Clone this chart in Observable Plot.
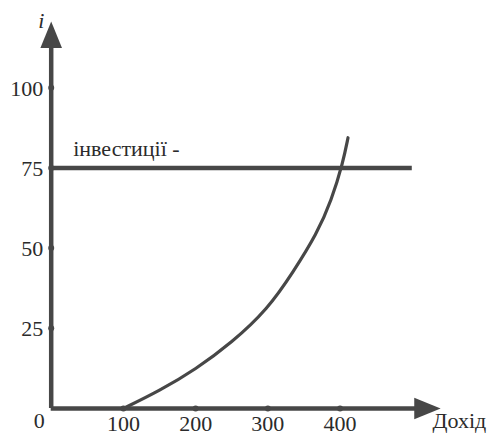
<!DOCTYPE html>
<html>
<head>
<meta charset="utf-8">
<script src="https://cdn.jsdelivr.net/npm/d3@7"></script>
<script src="https://cdn.jsdelivr.net/npm/@observablehq/plot@0.6"></script>
<style>
  html, body { margin: 0; padding: 0; background: #fff; }
  #chart svg { display: block; }
  #chart svg text { font-family: "Liberation Serif", "Times New Roman", Tinos, "DejaVu Serif", "Noto Serif", Times, serif !important; }
</style>
</head>
<body>
<div id="chart"></div>
<script>
// Data
const xTicks = [100, 200, 300, 400];
const yTicks = [25, 50, 75, 100];
const investLevel = 75;
const investEndX = 500;
const investLabel = "інвестиції -";
const xAxisLabel = "Дохід";
const yAxisLabel = "i";
const originLabel = "0";
const curveX = [100, 150, 200, 250, 300, 335, 368, 388, 404, 411];
const curveY = [0, 5.5, 12.2, 20.5, 31, 42.5, 54.5, 64.8, 76.6, 84.4];
const xAxisEnd = 522;   // end of x-axis shaft (data units)
const xArrowAt = 521;   // arrowhead centre
const yAxisEnd = 116;   // end of y-axis shaft
const yArrowAt = 116.5; // arrowhead centre

const curve = curveX.map((x, i) => ({x, y: curveY[i]}));

const ink = "#474747";
const textInk = "#2b2b2b";
const serif = "Liberation Serif, Times New Roman, DejaVu Serif, serif";

// elongated triangle, pointing up, centred on the point
const arrowHead = {
  draw(context, size) {
    const r = Math.sqrt(size / Math.PI);
    const h = 2.2 * r, w = 1.8 * r;
    context.moveTo(0, -h / 2);
    context.lineTo(w / 2, h / 2);
    context.lineTo(-w / 2, h / 2);
    context.closePath();
  }
};

const fs = 22;
const t = {fontSize: fs, fill: textInk, fontFamily: serif};

const chart = Plot.plot({
  width: 496,
  height: 435,
  marginLeft: 50.7,
  marginRight: 12,
  marginTop: 23,
  marginBottom: 27,
  x: {domain: [0, 600], axis: null},
  y: {domain: [0, 120], axis: null},
  style: {fontFamily: serif, color: textInk, background: "#fff"},
  marks: [
    // investment line
    Plot.ruleY([investLevel], {x1: 0, x2: investEndX, stroke: ink, strokeWidth: 4.5}),
    Plot.text([investLabel], {x: () => 0, y: () => investLevel, text: d => d, dx: 22, dy: -19, textAnchor: "start", ...t}),
    // curve
    Plot.line(curve, {x: "x", y: "y", curve: "basis", stroke: ink, strokeWidth: 3.2}),
    // axes
    Plot.ruleY([0], {x1: 0, x2: xAxisEnd, stroke: ink, strokeWidth: 4.5}),
    Plot.ruleX([0], {y1: 0, y2: yAxisEnd, stroke: ink, strokeWidth: 4.5}),
    Plot.dot([0], {x: () => xArrowAt, y: () => 0, symbol: arrowHead, r: 12, rotate: 90, fill: ink, stroke: null}),
    Plot.dot([0], {x: () => 0, y: () => yArrowAt, symbol: arrowHead, r: 12, fill: ink, stroke: null}),
    // tick dots
    Plot.dot(xTicks, {x: d => d, y: () => 0, r: 3, fill: ink, stroke: null}),
    Plot.dot(yTicks, {x: () => 0, y: d => d, r: 3, fill: ink, stroke: null}),
    // tick labels
    Plot.text(xTicks, {x: d => d, y: () => 0, text: d => String(d), dy: 15, ...t}),
    Plot.text(yTicks, {x: () => 0, y: d => d, text: d => String(d), dx: -8, dy: 1, textAnchor: "end", ...t}),
    Plot.text([originLabel], {x: () => 0, y: () => 0, text: d => d, dx: -12, dy: 12, ...t}),
    // axis labels
    Plot.text([xAxisLabel], {x: () => xArrowAt, y: () => 0, text: d => d, dx: 5, dy: 12, textAnchor: "start", ...t}),
    Plot.text([yAxisLabel], {x: () => 0, y: () => yArrowAt, text: d => d, dx: -10, dy: -14, fontStyle: "italic", ...t})
  ]
});
document.getElementById("chart").appendChild(chart);
</script>
</body>
</html>
